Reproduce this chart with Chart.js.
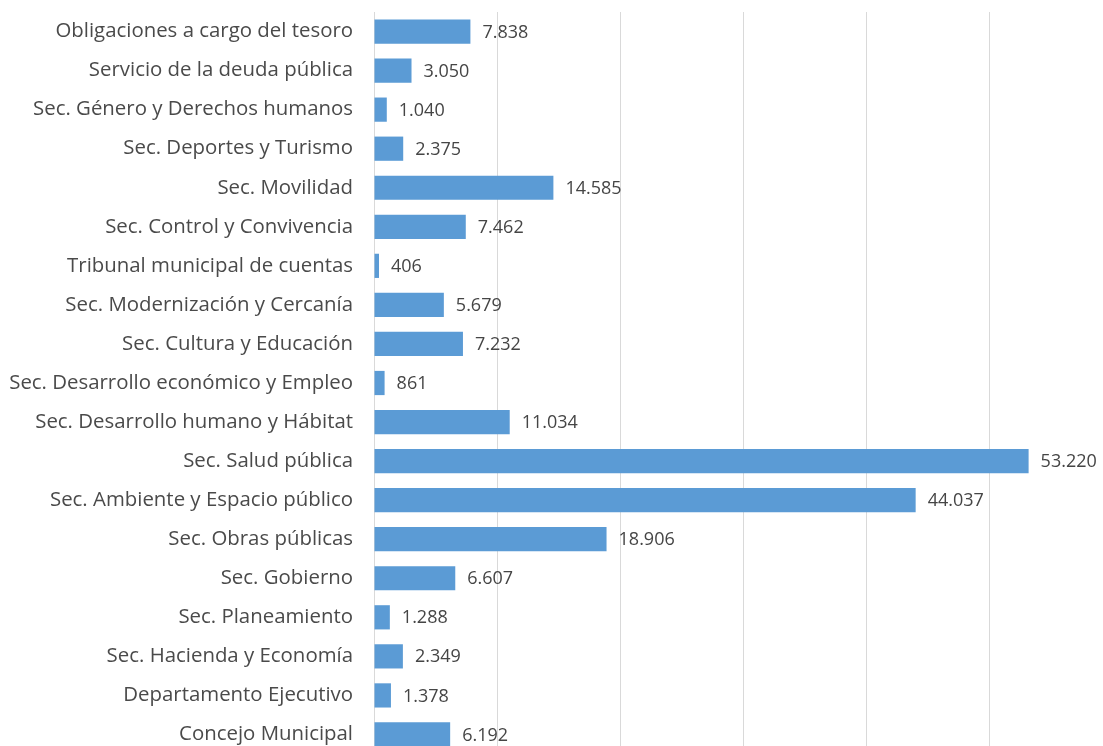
<!DOCTYPE html>
<html>
<head>
<meta charset="utf-8">
<script src="https://cdn.jsdelivr.net/npm/chart.js@4/dist/chart.umd.min.js"></script>
<style>
  html, body { margin: 0; padding: 0; background: #fff; overflow: hidden; }
  #wrap { width: 1115px; height: 754px; position: relative; }
</style>
</head>
<body>
<div id="wrap"><canvas id="chart"></canvas></div>
<script>
const categories = [
    'Obligaciones a cargo del tesoro',
    'Servicio de la deuda pública',
    'Sec. Género y Derechos humanos',
    'Sec. Deportes y Turismo',
    'Sec. Movilidad',
    'Sec. Control y Convivencia',
    'Tribunal municipal de cuentas',
    'Sec. Modernización y Cercanía',
    'Sec. Cultura y Educación',
    'Sec. Desarrollo económico y Empleo',
    'Sec. Desarrollo humano y Hábitat',
    'Sec. Salud pública',
    'Sec. Ambiente y Espacio público',
    'Sec. Obras públicas',
    'Sec. Gobierno',
    'Sec. Planeamiento',
    'Sec. Hacienda y Economía',
    'Departamento Ejecutivo',
    'Concejo Municipal'
];
const values = [7838, 3050, 1040, 2375, 14585, 7462, 406, 5679, 7232, 861, 11034, 53220, 44037, 18906, 6607, 1288, 2349, 1378, 6192];

const fmt = v => String(v).replace(/\B(?=(\d{3})+(?!\d))/g, '.');

// etiquetas de valor al final de cada barra
const valueLabels = {
    id: 'valueLabels',
    afterDatasetsDraw(chart) {
        const ctx = chart.ctx;
        const meta = chart.getDatasetMeta(0);
        ctx.save();
        ctx.font = '18px "Open Sans"';
        ctx.fillStyle = '#454545';
        ctx.textAlign = 'left';
        ctx.textBaseline = 'middle';
        meta.data.forEach((bar, i) => {
            ctx.fillText(fmt(values[i]), bar.x + 12, bar.y + 1);
        });
        ctx.restore();
    }
};

new Chart(document.getElementById('chart').getContext('2d'), {
    type: 'bar',
    data: {
        labels: categories,
        datasets: [{
            data: values,
            backgroundColor: '#5B9BD5',
            borderWidth: 0,
            barPercentage: 0.62,
            categoryPercentage: 1
        }]
    },
    options: {
        indexAxis: 'y',
        responsive: true,
        maintainAspectRatio: false,
        animation: false,
        layout: { padding: { top: 12, right: 3, bottom: 0, left: 0 } },
        scales: {
            x: {
                min: 0,
                max: 60000,
                afterFit: s => { s.height = 0; s.paddingLeft = 0; s.paddingRight = 0; },
                ticks: { display: false, stepSize: 10000 },
                grid: { color: '#d9d9d9', lineWidth: 1, drawTicks: false },
                border: { display: false }
            },
            y: {
                afterFit: s => { s.width = 374; s.paddingTop = 0; s.paddingBottom = 0; },
                ticks: {
                    color: '#4a4a4a',
                    padding: 21,
                    font: { family: '"Open Sans"', size: 20.4 }
                },
                grid: { display: false, drawTicks: false },
                border: { color: '#d9d9d9', width: 1 }
            }
        },
        plugins: {
            legend: { display: false },
            tooltip: { enabled: false }
        }
    },
    plugins: [valueLabels]
});
</script>
</body>
</html>
